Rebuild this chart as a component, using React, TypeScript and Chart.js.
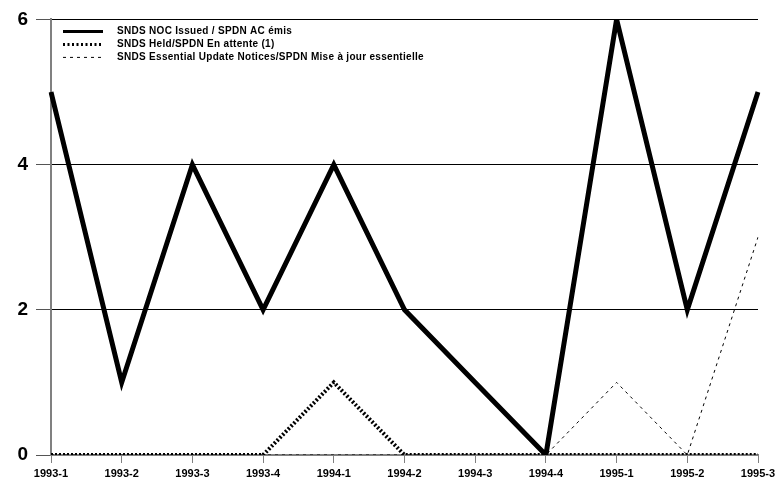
import React, { useEffect, useRef } from "react";
import { Chart, registerables } from "chart.js";

Chart.register(...registerables);

const categories = ["1993-1", "1993-2", "1993-3", "1993-4", "1994-1", "1994-2", "1994-3", "1994-4", "1995-1", "1995-2", "1995-3"];
const nocIssued = [5, 1, 4, 2, 4, 2, 1, 0, 6, 2, 5];
const held = [0, 0, 0, 0, 1, 0, 0, 0, 0, 0, 0];
const essentialUpdates = [0, 0, 0, 0, 0, 0, 0, 0, 1, 0, 3];
const seriesLabels = [
  "SNDS NOC Issued / SPDN AC émis",
  "SNDS Held/SPDN En attente (1)",
  "SNDS Essential Update Notices/SPDN Mise à jour essentielle",
];
const yTicks = [0, 2, 4, 6];

const FONT = "'Liberation Sans', Arial, sans-serif";

const legendPlugin = {
  id: "innerLegend",
  afterDraw(chart: any) {
    const ctx = chart.ctx;
    const area = chart.chartArea;
    const x0 = area.left + 12;
    const x1 = x0 + 40;
    const tx = area.left + 66;
    const rows = [area.top + 12, area.top + 25, area.top + 38];
    const styles = [
      { w: 3, dash: [] as number[] },
      { w: 3, dash: [2, 2.5] },
      { w: 1, dash: [3, 4] },
    ];
    ctx.save();
    ctx.fillStyle = "#000";
    ctx.strokeStyle = "#000";
    ctx.font = `bold 10px ${FONT}`;
    try {
      (ctx as any).letterSpacing = "0.3px";
    } catch (e) {}
    ctx.textBaseline = "middle";
    ctx.textAlign = "left";
    rows.forEach((y, i) => {
      ctx.beginPath();
      ctx.lineWidth = styles[i].w;
      ctx.setLineDash(styles[i].dash);
      ctx.lineCap = "butt";
      ctx.moveTo(x0, y);
      ctx.lineTo(x1, y);
      ctx.stroke();
      ctx.setLineDash([]);
      ctx.fillText(seriesLabels[i], tx, y);
    });
    ctx.restore();
  },
};

export default function App() {
  const ref = useRef<HTMLCanvasElement | null>(null);
  useEffect(() => {
    document.body.style.margin = "0";
    const chart = new Chart(ref.current!, {
      type: "line",
      data: {
        labels: categories,
        datasets: [
          {
            label: seriesLabels[0],
            data: nocIssued,
            borderColor: "#000",
            borderWidth: 5,
            pointRadius: 0,
            tension: 0,
            borderJoinStyle: "miter",
          },
          {
            label: seriesLabels[1],
            data: held,
            borderColor: "#000",
            borderWidth: 4,
            borderDash: [2, 2],
            pointRadius: 0,
            tension: 0,
          },
          {
            label: seriesLabels[2],
            data: essentialUpdates,
            borderColor: "#000",
            borderWidth: 1,
            borderDash: [3, 4],
            pointRadius: 0,
            tension: 0,
          },
        ],
      },
      options: {
        animation: false,
        responsive: false,
        maintainAspectRatio: false,
        layout: { padding: { top: 17, right: 24, left: 0, bottom: 0 } },
        plugins: { legend: { display: false }, tooltip: { enabled: false } },
        scales: {
          x: {
            offset: false,
            grid: {
              drawOnChartArea: false,
              drawTicks: true,
              tickLength: 8,
              tickColor: "#808080",
              tickWidth: 1,
            },
            border: { color: "#808080", width: 2 },
            ticks: {
              color: "#000",
              font: { family: FONT, size: 11, weight: "bold" },
              maxRotation: 0,
              autoSkip: false,
              padding: 4,
            },
            afterFit(scale: any) {
              scale.height = 27;
            },
          },
          y: {
            min: 0,
            max: 6,
            afterBuildTicks(scale: any) {
              scale.ticks = yTicks.map((v) => ({ value: v }));
            },
            grid: {
              color: (c: any) => (c.tick && c.tick.value === 0 ? "#808080" : "#000"),
              lineWidth: 1,
              drawTicks: true,
              tickLength: 15,
              tickColor: "#555",
            },
            border: { color: "#808080", width: 2 },
            ticks: {
              color: "#000",
              font: { family: FONT, size: 19, weight: "bold" },
              padding: 8,
            },
            afterFit(scale: any) {
              scale.width = 51;
            },
          },
        },
      },
      plugins: [legendPlugin],
    });
    return () => chart.destroy();
  }, []);
  return (
    <div style={{ width: 782, height: 482, position: "relative", background: "#fff" }}>
      <canvas ref={ref} width={782} height={482} style={{ display: "block" }} />
    </div>
  );
}
